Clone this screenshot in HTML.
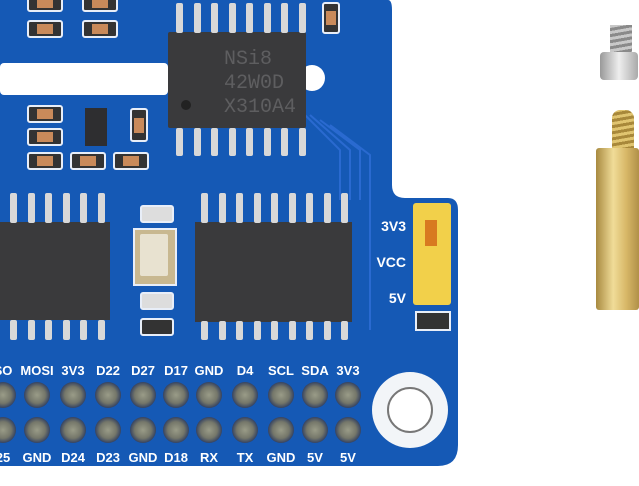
<!DOCTYPE html>
<html><head><style>
body{margin:0;width:639px;height:486px;background:#fff;overflow:hidden;position:relative;font-family:"Liberation Sans",sans-serif}
.a{position:absolute}
.lbl{position:absolute;color:#fff;font-weight:bold;font-size:13px;transform:translateX(-50%)}
.pin{position:absolute;width:26px;height:26px;border-radius:50%;background:radial-gradient(circle,#9a9c88 0,#75776a 45%,#2a3a60 75%,#123580 100%);transform:translate(-50%,-50%)}
.leg{position:absolute;width:7px;height:26px;background:#d8d8d8;border-radius:2px}
.smd{position:absolute;border:2px solid #e8eef8;border-radius:3px;background:#333}
.smd i{position:absolute;left:25%;right:25%;top:2px;bottom:2px;background:#c98a5a}
</style></head><body>
<svg class="a" style="left:0;top:0" width="639" height="486">
<path d="M0 0 H388 Q392 0 392 10 V185 Q392 198 405 198 H448 Q458 198 458 210 V445 Q458 466 438 466 H0 Z" fill="#1559b5"/>
<rect x="0" y="63" width="168" height="32" rx="4" fill="#fff"/>
<circle cx="312" cy="78" r="13" fill="#fff"/>
<circle cx="410" cy="410" r="38" fill="#f2f5f8"/>
<circle cx="410" cy="410" r="22" fill="#fff" stroke="#777" stroke-width="2"/>
<g stroke="#2a6ad0" stroke-width="2" fill="none"><path d="M300 110 L340 150 V200 M310 115 L350 150 V200 M320 120 L360 150 V200 M330 125 L370 155 V330"/></g>
</svg>
<div class="a" style="left:168px;top:32px;width:138px;height:96px;background:#3a3a3c;border-radius:2px"></div>
<div class="a" style="left:224px;top:48px;color:#5e5e60;font:20px 'Liberation Mono',monospace;line-height:24px">NSi8<br>42W0D<br>X310A4</div>
<div class="a" style="left:181px;top:100px;width:10px;height:10px;border-radius:50%;background:#222"></div>
<div class="a" style="left:0;top:222px;width:110px;height:98px;background:#3a3a3c"></div>
<div class="a" style="left:195px;top:222px;width:157px;height:100px;background:#3a3a3c"></div>
<div class="a" style="left:133px;top:228px;width:40px;height:54px;border:2px solid #e8eef8;background:#c8b890"></div>
<div class="a" style="left:140px;top:234px;width:28px;height:42px;background:#e8e2d0;border-radius:2px"></div>
<div class="a" style="left:413px;top:203px;width:38px;height:102px;background:#f2d04a;border-radius:3px"></div>
<div class="a" style="left:425px;top:220px;width:12px;height:26px;background:#d87a20"></div>
<div class="a" style="left:415px;top:311px;width:32px;height:16px;border:2px solid #e8eef8;background:#333"></div>
<div class="a" style="left:360px;top:208px;color:#fff;font-weight:bold;font-size:14px;line-height:36px;text-align:right;width:46px">3V3<br>VCC<br>5V</div>
<div class="smd" style="left:27px;top:-4px;width:32px;height:12px"><i></i></div>
<div class="smd" style="left:27px;top:20px;width:32px;height:14px"><i></i></div>
<div class="smd" style="left:82px;top:-4px;width:32px;height:12px"><i></i></div>
<div class="smd" style="left:82px;top:20px;width:32px;height:14px"><i></i></div>
<div class="smd" style="left:27px;top:105px;width:32px;height:14px"><i></i></div>
<div class="smd" style="left:27px;top:128px;width:32px;height:14px"><i></i></div>
<div class="smd" style="left:27px;top:152px;width:32px;height:14px"><i></i></div>
<div class="smd" style="left:70px;top:152px;width:32px;height:14px"><i></i></div>
<div class="smd" style="left:113px;top:152px;width:32px;height:14px"><i></i></div>
<div class="smd" style="left:130px;top:108px;width:14px;height:30px"><i style="left:2px;right:2px;top:25%;bottom:25%"></i></div>
<div class="smd" style="left:322px;top:2px;width:14px;height:28px"><i style="left:2px;right:2px;top:25%;bottom:25%"></i></div>
<div class="a" style="left:85px;top:108px;width:22px;height:38px;background:#2e2e30"></div>
<div class="smd" style="left:140px;top:205px;width:30px;height:14px;background:#ddd"></div>
<div class="smd" style="left:140px;top:292px;width:30px;height:14px;background:#ddd"></div>
<div class="smd" style="left:140px;top:318px;width:30px;height:14px;background:#333"></div>
<div id="legs"></div>
<script>
var h='';
for(var i=0;i<8;i++){h+='<div class="leg" style="left:'+(176+i*17.5)+'px;top:3px;height:30px"></div><div class="leg" style="left:'+(176+i*17.5)+'px;top:128px;height:28px"></div>';}
for(var i=0;i<6;i++){h+='<div class="leg" style="left:'+(10+i*17.5)+'px;top:193px;height:30px"></div><div class="leg" style="left:'+(10+i*17.5)+'px;top:320px;height:20px"></div>';}
for(var i=0;i<9;i++){h+='<div class="leg" style="left:'+(201+i*17.5)+'px;top:193px;height:30px"></div><div class="leg" style="left:'+(201+i*17.5)+'px;top:321px;height:19px"></div>';}
var xs=[3,37,73,108,143,176,209,245,281,315,348];
var t=['SO','MOSI','3V3','D22','D27','D17','GND','D4','SCL','SDA','3V3'];
var b=['25','GND','D24','D23','GND','D18','RX','TX','GND','5V','5V'];
for(var i=0;i<11;i++){h+='<div class="pin" style="left:'+xs[i]+'px;top:395px"></div><div class="pin" style="left:'+xs[i]+'px;top:430px"></div>';
h+='<div class="lbl" style="left:'+xs[i]+'px;top:363px">'+t[i]+'</div><div class="lbl" style="left:'+xs[i]+'px;top:450px">'+b[i]+'</div>';}
document.getElementById('legs').innerHTML=h;
</script>
<div class="a" style="left:610px;top:25px;width:22px;height:28px;background:repeating-linear-gradient(170deg,#c8c8c8 0 3px,#8a8a8a 3px 6px)"></div>
<div class="a" style="left:600px;top:52px;width:38px;height:28px;background:linear-gradient(90deg,#999,#eee,#aaa);border-radius:4px"></div>
<div class="a" style="left:612px;top:110px;width:22px;height:40px;background:repeating-linear-gradient(170deg,#e0c470 0 3px,#a8883a 3px 6px);border-radius:8px 8px 0 0"></div>
<div class="a" style="left:596px;top:148px;width:43px;height:162px;background:linear-gradient(90deg,#a88a40,#f0dc98 40%,#d8b868 70%,#b09048);border-radius:3px"></div>
</body></html>
